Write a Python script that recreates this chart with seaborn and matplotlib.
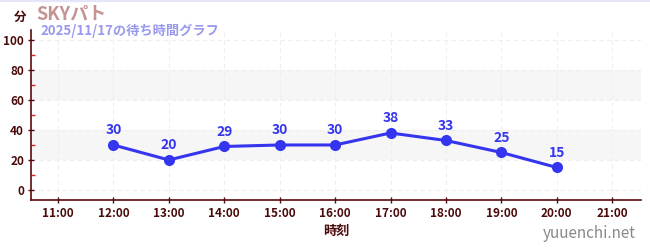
import matplotlib
matplotlib.use("Agg")
import matplotlib.pyplot as plt
import seaborn as sns
import pandas as pd
from matplotlib.ticker import MultipleLocator, FixedLocator

hours = [12, 13, 14, 15, 16, 17, 18, 19, 20]
waits = [30, 20, 29, 30, 30, 38, 33, 25, 15]
tick_hours = list(range(11, 22))
tick_labels = [f"{h}:00" for h in tick_hours]
title = "SKYパト"
subtitle = "2025/11/17の待ち時間グラフ"

sns.set_theme(style="white")
plt.rcParams['font.family'] = ['Noto Sans CJK JP', 'DejaVu Sans']

df = pd.DataFrame({"hour": hours, "wait": waits})

fig = plt.figure(figsize=(6.5, 2.5), dpi=100)
ax = fig.add_axes([31/650, 1-200/250, 610/650, 170/250])

ax.axhspan(20, 40, color="#f6f6f6", zorder=0, lw=0)
ax.axhspan(60, 80, color="#f6f6f6", zorder=0, lw=0)

sns.lineplot(data=df, x="hour", y="wait", ax=ax, color="#3535f0", lw=2.2,
             marker="o", markersize=8, markeredgewidth=0, zorder=3)
for h, w in zip(hours, waits):
    ax.annotate(str(w), (h, w), xytext=(0, 5.5), textcoords="offset points",
                ha="center", va="bottom", color="#3535f0", fontsize=10,
                fontweight="bold")

ax.set_xlim(10.513, 21.52)
ax.set_ylim(-6.7, 106.7)
ax.xaxis.set_major_locator(FixedLocator(tick_hours))
ax.set_xticklabels(tick_labels)
ax.yaxis.set_major_locator(MultipleLocator(20))
ax.yaxis.set_minor_locator(FixedLocator([10, 30, 50, 70, 90]))

dark = "#4a0a0a"
ax.grid(True, which="major", color="#eeeeee", ls=(0, (4, 3)), lw=0.8)
for s in ["top", "right"]:
    ax.spines[s].set_visible(False)
for s in ["left", "bottom"]:
    ax.spines[s].set_color("#5a0a0a")
    ax.spines[s].set_linewidth(1.2)
ax.tick_params(axis="both", which="major", colors=dark, labelsize=8.5, length=4,
               width=1, direction="inout", left=True, bottom=True, pad=3)
ax.tick_params(axis="y", which="minor", colors="#dd2222", length=3, width=1,
               direction="in", left=True)
for lbl in ax.get_xticklabels() + ax.get_yticklabels():
    lbl.set_fontweight("bold")
    lbl.set_color(dark)
ax.set_xlabel("時刻", color=dark, fontsize=9.5, fontweight="bold", labelpad=3)
ax.set_ylabel("")

fig.text(14/650, 1-17/250, "分", color=dark, fontsize=9, fontweight="bold",
         ha="left", va="center")
fig.text(36/650, 1-14/250, title, color="#c49494", fontsize=13, fontweight="bold",
         ha="left", va="center")
fig.text(40/650, 1-31/250, subtitle, color="#9999ee", fontsize=9.5,
         fontweight="bold", ha="left", va="center")
fig.text(636/650, 1-234/250, "yuuenchi.net", color="#888888", fontsize=11,
         ha="right", va="center")
fig.add_artist(plt.Line2D([0, 1], [0.997, 0.997], color="#e4e4fa", lw=1.5,
                          transform=fig.transFigure))

fig.savefig("out.png", dpi=100)
